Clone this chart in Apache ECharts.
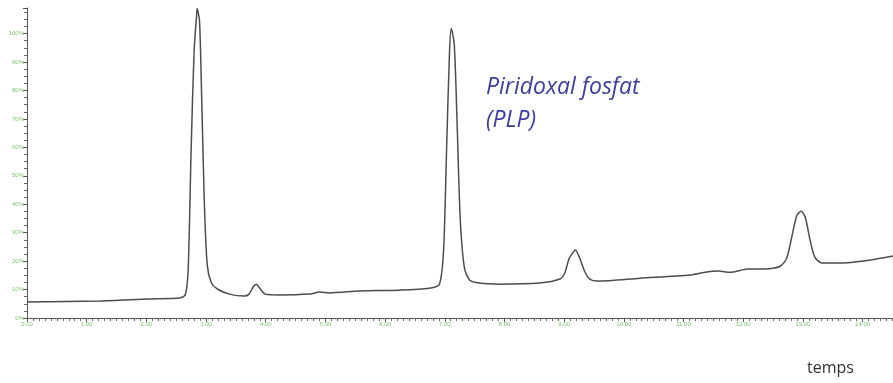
<!DOCTYPE html>
<html>
<head>
<meta charset="utf-8">
<script src="https://cdn.jsdelivr.net/npm/echarts@6/dist/echarts.min.js"></script>
<style>
  html, body { margin: 0; padding: 0; background: #fff; }
  #container { width: 893px; height: 383px; }
</style>
</head>
<body>
<div id="container"></div>
<script>
var temps = [0.00, 1.21, 2.05, 2.55, 2.65, 2.70, 2.75, 2.80, 2.84, 2.85, 2.89, 2.92, 2.97, 3.02, 3.09, 3.19, 3.39, 3.64,
    3.72, 3.79, 3.84, 3.91, 3.99, 4.23, 4.73, 4.90, 5.07, 5.57, 6.24, 6.74, 6.91, 6.98, 7.03, 7.08, 7.11, 7.16, 7.21,
    7.26, 7.33, 7.42, 7.58, 7.92, 8.59, 8.93, 9.01, 9.08, 9.14, 9.19, 9.26, 9.35, 9.43, 9.55, 10.27, 11.11, 11.36,
    11.58, 11.78, 12.08, 12.37, 12.62, 12.73, 12.82, 12.90, 12.97, 13.04, 13.12, 13.20, 13.32, 13.62, 14.13, 14.51];
var signal = [5.6, 6.0, 6.7, 7.0, 8.1, 16.8, 59, 94, 106, 108.8, 104.6, 83.5, 41.4, 18.6, 12.3, 10.2, 8.4, 7.7,
    8.4, 10.9, 11.9, 10.2, 8.4, 8.1, 8.4, 9.1, 8.8, 9.5, 9.8, 10.5, 11.9, 23.9, 59, 94, 101.8, 95.8, 66,
    34.4, 17.5, 13.3, 12.3, 11.9, 12.3, 13.7, 15.8, 20.7, 22.8, 23.9, 21.1, 16.1, 13.7, 13.0, 14.0, 15.1, 16.1,
    16.5, 16.1, 17.2, 17.2, 18.2, 21.1, 29.1, 36.1, 37.5, 35.4, 27.4, 21.4, 19.3, 19.3, 20.4, 21.8];
var etiquette = ['Piridoxal fosfat', '(PLP)'];
var titreX = 'temps';

var points = [];
for (var i = 0; i < temps.length; i++) {
    points.push([temps[i], signal[i]]);
}

var myChart = echarts.init(document.getElementById('container'));
myChart.setOption({
    animation: false,
    grid: { left: 27, right: 0, top: 8, bottom: 65 },
    xAxis: {
        type: 'value',
        min: 0,
        max: 14.51,
        interval: 1,
        axisLine: { lineStyle: { color: '#555', width: 1 } },
        axisTick: { show: true, length: 4, lineStyle: { color: '#555' } },
        minorTick: { show: true, splitNumber: 10, length: 3, lineStyle: { color: '#666' } },
        splitLine: { show: false },
        axisLabel: {
            color: '#7cc46a', fontSize: 6, margin: 3, showMaxLabel: false,
            formatter: function (v) { return v.toFixed(2); }
        }
    },
    yAxis: {
        type: 'value',
        min: 0,
        max: 109,
        interval: 10,
        axisLine: { show: true, lineStyle: { color: '#555', width: 1 } },
        axisTick: { show: true, length: 4, lineStyle: { color: '#555' } },
        minorTick: { show: true, splitNumber: 4, length: 3, lineStyle: { color: '#666' } },
        splitLine: { show: false },
        axisLabel: { color: '#7cc46a', fontSize: 6, margin: 3, showMaxLabel: false, formatter: '{value}%' }
    },
    graphic: [{
        type: 'text',
        left: 486,
        top: 71,
        style: {
            text: etiquette.join('\n'),
            font: 'italic 23px "Open Sans"',
            lineHeight: 33,
            fill: '#3d3d9e'
        }
    }, {
        type: 'text',
        left: 807,
        top: 360,
        style: { text: titreX, font: '16px "Open Sans"', fill: '#333' }
    }],
    series: [{
        type: 'line',
        data: points,
        symbol: 'none',
        smooth: 0.25,
        lineStyle: { color: '#4d4d4d', width: 1.5 }
    }]
});
</script>
</body>
</html>
